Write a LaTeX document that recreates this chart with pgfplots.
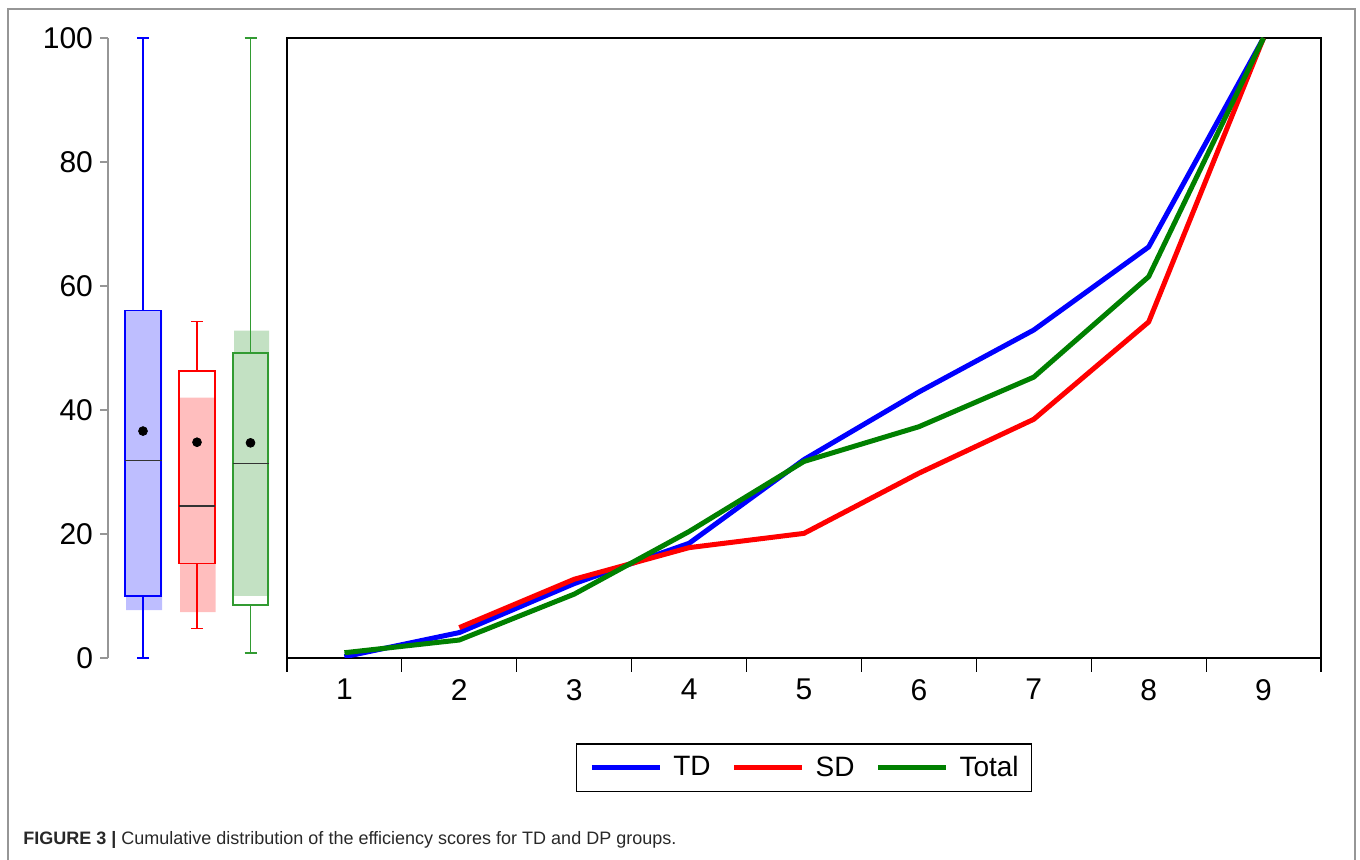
\documentclass[border=0pt]{standalone}
\usepackage{fontspec}
\setmainfont{Liberation Sans}
\usepackage{pgfplots}
\pgfplotsset{compat=1.18}
\definecolor{tdblue}{RGB}{0,0,255}
\definecolor{sdred}{RGB}{255,0,0}
\definecolor{totgreen}{RGB}{0,128,0}
\definecolor{bfill}{RGB}{190,190,255}
\definecolor{rfill}{RGB}{255,190,190}
\definecolor{gfill}{RGB}{195,225,195}
\definecolor{gedge}{RGB}{50,155,50}
\definecolor{framegray}{RGB}{150,150,150}
\definecolor{captext}{RGB}{40,40,40}

\begin{document}
\begin{tikzpicture}
\useasboundingbox (0,0) rectangle (680pt,430pt);
\draw[framegray, line width=1pt] (4pt,0) -- (4pt,425.5pt) -- (677.5pt,425.5pt) -- (677.5pt,0);

% ---------- box plots ----------
\begin{axis}[at={(54pt,101pt)}, anchor=south west, scale only axis,
  width=86pt, height=310pt,
  xmin=108, xmax=280, ymin=0, ymax=100,
  axis y line*=left, axis x line=none,
  ytick={0,20,...,100}, tick align=outside, major tick length=4pt,
  y axis line style={framegray, line width=0.6pt},
  ytick style={framegray, line width=0.6pt},
  yticklabel style={font=\fontsize{15}{18}\selectfont, black},
  /pgf/number format/assume math mode=true,
  clip=false]
  % shaded fills
  \addplot[draw=none, fill=bfill] coordinates {(126,7.7) (162,7.7) (162,56) (126,56) (126,7.7)};
  \addplot[draw=none, fill=rfill] coordinates {(180,7.4) (215.5,7.4) (215.5,42) (180,42) (180,7.4)};
  \addplot[draw=none, fill=gfill] coordinates {(234,10) (269,10) (269,52.8) (234,52.8) (234,10)};
  % TD box
  \addplot[tdblue, line width=0.7pt, line cap=rect] coordinates {(125,10) (161,10) (161,56) (125,56) (125,10)};
  \addplot[tdblue, line width=0.6pt] coordinates {(143,56) (143,100)};
  \addplot[tdblue, line width=0.6pt] coordinates {(137,100) (149,100)};
  \addplot[tdblue, line width=0.6pt] coordinates {(143,10) (143,0)};
  \addplot[tdblue, line width=0.6pt] coordinates {(137,0) (149,0)};
  \addplot[black!80, line width=0.6pt] coordinates {(125,31.8) (162,31.8)};
  % SD box
  \addplot[sdred, line width=0.7pt, line cap=rect] coordinates {(179,15.2) (215,15.2) (215,46.3) (179,46.3) (179,15.2)};
  \addplot[sdred, line width=0.6pt] coordinates {(197,46.3) (197,54.3)};
  \addplot[sdred, line width=0.6pt] coordinates {(191,54.3) (203,54.3)};
  \addplot[sdred, line width=0.6pt] coordinates {(197,15.2) (197,4.8)};
  \addplot[sdred, line width=0.6pt] coordinates {(191,4.8) (203,4.8)};
  \addplot[black!80, line width=0.6pt] coordinates {(179,24.5) (215,24.5)};
  % Total box
  \addplot[gedge, line width=0.8pt, line cap=rect] coordinates {(233,8.5) (268,8.5) (268,49.2) (233,49.2) (233,8.5)};
  \addplot[gedge, line width=0.6pt] coordinates {(250.5,49.2) (250.5,100)};
  \addplot[gedge, line width=0.6pt] coordinates {(244.5,100) (256.5,100)};
  \addplot[gedge, line width=0.6pt] coordinates {(250.5,8.5) (250.5,0.8)};
  \addplot[gedge, line width=0.6pt] coordinates {(244.5,0.8) (256.5,0.8)};
  \addplot[black!80, line width=0.6pt] coordinates {(233,31.4) (269,31.4)};
  % means
  \addplot[only marks, mark=*, mark size=2.2pt, black] coordinates {(143,36.6) (197,34.8) (250.5,34.7)};
\end{axis}

% ---------- cumulative distribution ----------
\begin{axis}[at={(143.5pt,101pt)}, anchor=south west, scale only axis,
  width=517pt, height=310pt,
  xmin=0.5, xmax=9.5, ymin=0, ymax=100,
  xtick={1,...,9}, minor xtick={0.5,1.5,...,9.5}, ytick=\empty,
  xtick pos=left, tick align=outside,
  major tick length=7pt, minor tick length=7pt,
  major tick style={draw=none},
  minor tick style={black, line width=0.6pt},
  axis line style={black, line width=0.9pt},
  xticklabel style={font=\fontsize{15}{18}\selectfont},
  /pgf/number format/assume math mode=true,
  legend columns=3,
  legend style={at={(0.5,-0.177)}, anchor=center, draw=black, line width=0.6pt,
    inner xsep=6.5pt, inner ysep=6pt, font=\fontsize{14}{16}\selectfont,
    /tikz/every odd column/.append style={column sep=5.5pt},
    /tikz/every even column/.append style={column sep=10.5pt},
    nodes={inner sep=0pt}},
  legend image code/.code={\draw[#1, line width=2.5pt] (0pt,0pt) -- (34pt,0pt);},
  ]
  \addplot[tdblue, line width=2.5pt, line join=round] coordinates {(1,0.2) (2,4.1) (3,12.0) (4,18.5) (5,32.0) (6,42.9) (7,52.9) (8,66.3) (9,100)};
  \addlegendentry{TD}
  \addplot[sdred, line width=2.5pt, line join=round] coordinates {(2,4.9) (3,12.7) (4,17.8) (5,20.1) (6,29.8) (7,38.5) (8,54.2) (9,100)};
  \addlegendentry{SD}
  \addplot[totgreen, line width=2.5pt, line join=round] coordinates {(1,0.85) (2,2.9) (3,10.3) (4,20.4) (5,31.7) (6,37.3) (7,45.3) (8,61.5) (9,100)};
  \addlegendentry{Total}
\end{axis}

\node[anchor=base west, inner sep=0pt, text=captext, font=\fontsize{9}{11}\selectfont] at (11.5pt,7.5pt) {\textbf{FIGURE 3 |} Cumulative distribution of the efficiency scores for TD and DP groups.};
\end{tikzpicture}
\end{document}
